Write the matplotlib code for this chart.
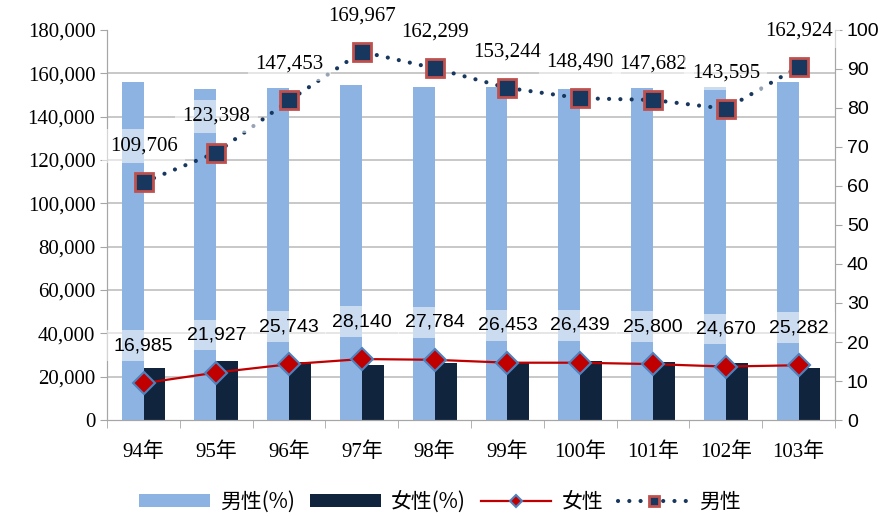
import matplotlib
matplotlib.use("Agg")
import matplotlib.pyplot as plt
import numpy as np

plt.rcParams['font.family'] = ['Liberation Serif', 'Noto Sans CJK TC']

years = ['94年', '95年', '96年', '97年', '98年', '99年', '100年', '101年', '102年', '103年']
male = [109706, 123398, 147453, 169967, 162299, 153244, 148490, 147682, 143595, 162924]
female = [16985, 21927, 25743, 28140, 27784, 26453, 26439, 25800, 24670, 25282]
male_pct = [86.6, 84.9, 85.1, 85.8, 85.4, 85.3, 84.9, 85.1, 85.3, 86.6]
female_pct = [13.4, 15.1, 14.9, 14.2, 14.6, 14.7, 15.1, 14.9, 14.7, 13.4]

light = '#8DB3E2'
dark = '#10243E'
navy = '#17375E'
red = '#C00000'
gray = '#A6A6A6'

fig = plt.figure(figsize=(8.93, 5.16), dpi=100)
ax = fig.add_axes([0.12, 0.186, 0.815, 0.756])
ax2 = ax.twinx()

x = np.arange(len(years))
w = 0.3

# bars (percent) on ax, ticks shown at right
ax.bar(x - w / 2, male_pct, w, color=light, label='男性(%)', zorder=2)
ax.bar(x + w / 2, female_pct, w, color=dark, label='女性(%)', zorder=2)
ax.set_ylim(0, 100)
ax.set_xlim(-0.5, len(years) - 0.5)
ax.yaxis.tick_right()
ax.set_yticks(np.arange(0, 101, 10))
ax.set_yticks(np.linspace(0, 100, 10), minor=True)
ax.yaxis.grid(True, which='minor', color='#BFBFBF', lw=1.2, zorder=0)
ax.tick_params(axis='y', which='minor', length=0)
ax.tick_params(axis='y', which='major', length=5, color=gray, labelsize=14)
for t in ax.get_yticklabels():
    t.set_family(['Liberation Sans'])
ax.set_axisbelow(True)

ax.set_xticks(x)
ax.set_xticklabels(years, fontsize=15)
ax.set_xticks(np.arange(-0.5, len(years)), minor=True)
ax.tick_params(axis='x', which='major', length=0, pad=16)
ax.tick_params(axis='x', which='minor', length=6, color=gray)

# lines (counts) on ax2, ticks shown at left
ax2.plot(x, female, color=red, lw=1.6, marker='D', ms=11, mfc=red,
         mec='#4F81BD', mew=1.5, label='女性', zorder=3)
ax2.plot(x, male, color=navy, lw=3, ls=(0, (0.01, 2.7)), dash_capstyle='round',
         marker='s', ms=13, mfc=navy, mec='#C0504D', mew=2, label='男性', zorder=4)
ax2.set_ylim(0, 180000)
ax2.yaxis.tick_left()
ax2.set_yticks(np.arange(0, 180001, 20000))
ax2.set_yticklabels(['{:,}'.format(v) for v in range(0, 180001, 20000)])
ax2.tick_params(axis='y', length=5, color=gray, labelsize=15)

for a in (ax, ax2):
    a.spines['top'].set_visible(False)
    for s in ('left', 'right', 'bottom'):
        a.spines[s].set_color(gray)

box = dict(boxstyle='square,pad=0.35', fc='white', ec='none', alpha=0.55)
for i, v in enumerate(male):
    ax2.annotate('{:,}'.format(v), (x[i], v), xytext=(0, 26), textcoords='offset points',
                 ha='center', va='center', fontsize=15, bbox=box, zorder=5,
                 annotation_clip=False)
for i, v in enumerate(female):
    ax2.annotate('{:,}'.format(v), (x[i], v), xytext=(0, 27), textcoords='offset points',
                 ha='center', va='center', fontsize=14, family=['Liberation Sans'],
                 bbox=box, zorder=5)

h1, l1 = ax.get_legend_handles_labels()
h2, l2 = ax2.get_legend_handles_labels()
fig.legend(h1 + h2, l1 + l2, loc='center', bbox_to_anchor=(0.493, 0.027), ncol=4,
           frameon=False, prop={'family': ['Noto Sans CJK TC'], 'size': 15},
           handlelength=3.4, handleheight=0.6, columnspacing=0.7, handletextpad=0.5,
           markerscale=0.6)

fig.savefig('out.png', dpi=100)
